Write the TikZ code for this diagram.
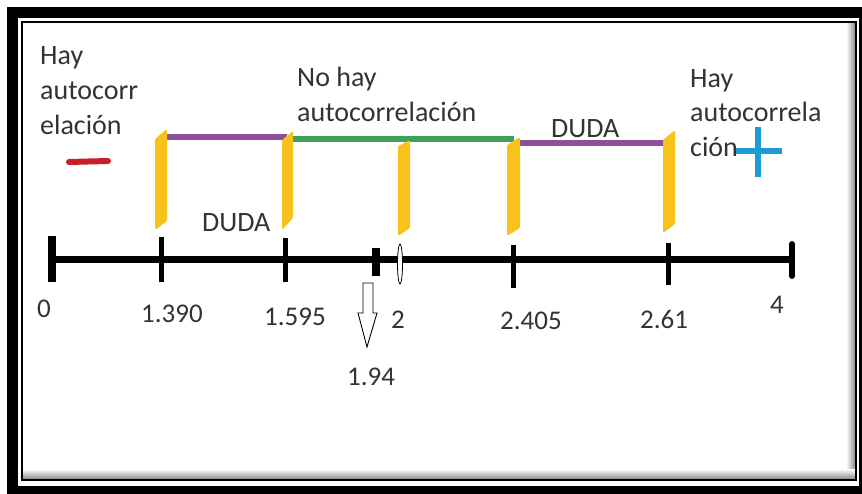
\documentclass[tikz,border=0pt]{standalone}
\usepackage{fontspec}
\setmainfont{Carlito}
\definecolor{ybarc}{HTML}{F7C21B}
\definecolor{purp}{HTML}{8C4F98}
\definecolor{grn}{HTML}{3DA257}
\definecolor{blu}{HTML}{1E9BD7}
\definecolor{redm}{HTML}{C81E2C}
\definecolor{txt}{HTML}{333333}
\begin{document}
\begin{tikzpicture}[x=1pt,y=-1pt,
  lbl/.style={anchor=base west,inner sep=0pt,text=txt,font=\fontsize{28}{34}\selectfont},
  num/.style={anchor=base,inner sep=0pt,text=txt,font=\fontsize{27}{32}\selectfont},
  axisline/.style={line width=7pt,black},
  tick/.style={line width=5pt,black},
  seg/.style={line width=6pt},
  ybar/.style={fill=ybarc,rounded corners=1.5pt}]
\useasboundingbox (0,0) rectangle (862,494);
% frame
\fill[white] (0,0) rectangle (862,494);
\fill[black] (7,7) rectangle (862,494);
\fill[white] (18,18) rectangle (859,486);
\shade[left color=white,right color=black!45] (846,23) rectangle (855,479);
\shade[top color=white,bottom color=black!45] (23,469) rectangle (855,479);
\draw[line width=2.2pt,black] (22,22) rectangle (856,480);
% axis
\coordinate (a0) at (52,260);
\coordinate (a4) at (792,260);
\draw[axisline] (a0) -- (a4);
\draw[line width=8pt] (52,236) -- (52,282);
\draw[tick] (161,237) -- (161,282);
\draw[tick] (285,238) -- (285,282);
\draw[line width=8pt] (376,248) -- (376,276);
\draw[black,fill=white,line width=0.8pt] (400,264) ellipse (2.5pt and 20pt);
\draw[tick] (513,245) -- (513,288);
\draw[tick] (668,243) -- (668,285);
\draw[line width=6pt,line cap=round] (792,244) -- (792,276);
% colored segments
\coordinate (p1) at (161,137);
\coordinate (p2) at (287,137);
\coordinate (q2) at (287,139);
\coordinate (q4) at (514,139);
\coordinate (r4) at (514,143);
\coordinate (r5) at (668,143);
\draw[seg,purp] (p1) -- (p2);
\draw[seg,grn] (q2) -- (q4);
\draw[seg,purp] (r4) -- (r5);
% yellow bars
\fill[ybar] (155,139) -- (167,129) -- (167,221) -- (155,230) -- cycle;
\fill[ybar] (282,140) -- (293,131) -- (293,218) -- (282,230) -- cycle;
\fill[ybar] (398,146) -- (410,140) -- (410,228) -- (398,236) -- cycle;
\fill[ybar] (507,145) -- (520,137) -- (520,228) -- (507,236) -- cycle;
\fill[ybar] (663,140) -- (675,130) -- (675,224) -- (663,233) -- cycle;
% arrow
\draw[black,fill=white,line width=0.9pt,line join=miter]
  (363,283) -- (373,283) -- (373,313) -- (377,313) -- (367,347) -- (358,313) -- (363,313) -- cycle;
% minus and plus
\draw[redm,line width=6pt,line cap=round] (69,162) -- (108,161);
\draw[blu,line width=6.5pt] (735,151) -- (782,151);
\draw[blu,line width=6.5pt] (758,127) -- (758,177);
% texts
\node[lbl] (l1) at (40,65) {Hay};
\node[lbl] (l2) at (40,100) {autocorr};
\node[lbl] (l3) at (40,135) {elación};
\node[lbl] (m1) at (297,87) {No hay};
\node[lbl] (m2) at (297,122) {autocorrelación};
\node[lbl] (r1) at (690,88) {Hay};
\node[lbl] (r2) at (690,122) {autocorrela};
\node[lbl] (r3) at (690,157) {ción};
\node[lbl] (d1) at (551,138) {DUDA};
\node[lbl] (d2) at (202,232) {DUDA};
% numbers
\node[num] (n0) at (44,318) {0};
\node[num] (n1) at (172,323) {1.390};
\node[num] (n2) at (295,325) {1.595};
\node[num] (n3) at (398,328) {2};
\node[num] (n4) at (371,385) {1.94};
\node[num] (n5) at (531,330) {2.405};
\node[num] (n6) at (664,328) {2.61};
\node[num] (n7) at (777,313) {4};
\end{tikzpicture}
\end{document}
